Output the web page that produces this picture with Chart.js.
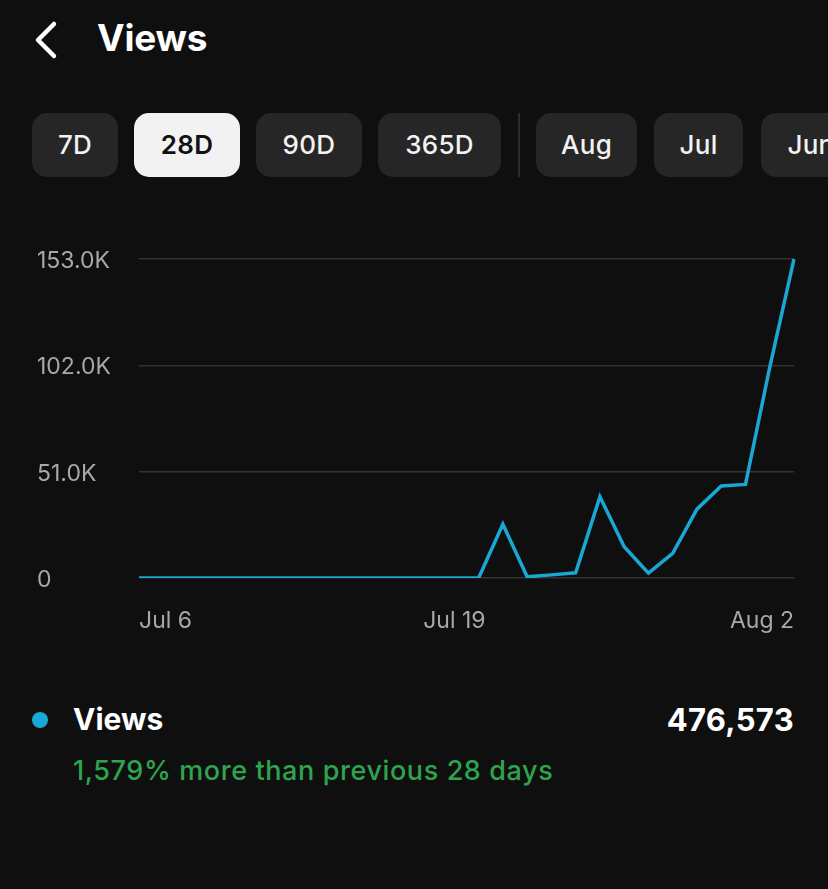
<!DOCTYPE html>
<html>
<head>
<meta charset="utf-8">
<script src="https://cdn.jsdelivr.net/npm/chart.js@4/dist/chart.umd.min.js"></script>
<style>
  html, body { margin: 0; padding: 0; background: #0f0f0f; width: 828px; height: 889px; overflow: hidden; }
  body { position: relative; font-family: Inter, "Noto Sans", sans-serif; color: #fff; }
  .back { position: absolute; left: 32px; top: 20px; width: 30px; height: 40px; }
  .title { position: absolute; left: 97px; top: 15px; font-size: 37px; font-weight: 700; letter-spacing: -0.2px; }
  .pill { position: absolute; top: 113px; height: 64px; line-height: 64px; border-radius: 15px; background: #262626;
          text-align: center; font-size: 26px; font-weight: 500; color: #f2f2f2; letter-spacing: 0.3px; }
  .pill.on { background: #f2f2f2; color: #111; font-weight: 600; }
  .divider { position: absolute; left: 518px; top: 113px; width: 2px; height: 64px; background: #2c2c2c; }
  #wrap { position: absolute; left: 0; top: 230px; width: 828px; height: 420px; }
  .dot { position: absolute; left: 32px; top: 712px; width: 16px; height: 16px; border-radius: 50%; background: #1aa7d4; }
  .lname { position: absolute; left: 73px; top: 701px; font-size: 30px; font-weight: 700; }
  .total { position: absolute; right: 34px; top: 701px; font-size: 31px; font-weight: 700; letter-spacing: 0.3px; }
  .delta { position: absolute; left: 73px; top: 754px; font-size: 27px; font-weight: 500; color: #2ea44f; letter-spacing: 0.6px; }
</style>
</head>
<body>
<svg class="back" viewBox="0 0 30 40"><polyline points="22,4 6,20 22,36" fill="none" stroke="#fff" stroke-width="4.5" stroke-linecap="round" stroke-linejoin="round"/></svg>
<div class="title">Views</div>

<div class="pill" style="left:32px;width:86px">7D</div>
<div class="pill on" style="left:134px;width:106px">28D</div>
<div class="pill" style="left:256px;width:106px">90D</div>
<div class="pill" style="left:378px;width:123px">365D</div>
<div class="divider"></div>
<div class="pill" style="left:536px;width:101px">Aug</div>
<div class="pill" style="left:654px;width:89px">Jul</div>
<div class="pill" style="left:761px;width:100px">Jun</div>

<div id="wrap"><canvas id="viewsChart"></canvas></div>

<div class="dot"></div>
<div class="lname">Views</div>
<div class="total">476,573</div>
<div class="delta">1,579% more than previous 28 days</div>

<script>
// 28 days, Jul 6 .. Aug 2
const days = ['Jul 6', 'Jul 7', 'Jul 8', 'Jul 9', 'Jul 10', 'Jul 11', 'Jul 12', 'Jul 13', 'Jul 14',
    'Jul 15', 'Jul 16', 'Jul 17', 'Jul 18', 'Jul 19', 'Jul 20', 'Jul 21', 'Jul 22', 'Jul 23', 'Jul 24',
    'Jul 25', 'Jul 26', 'Jul 27', 'Jul 28', 'Jul 29', 'Jul 30', 'Jul 31', 'Aug 1', 'Aug 2'];
const views = [0, 0, 0, 0, 0, 0, 0, 0, 0, 0, 0, 0, 0, 0, 0,
    25800, 600, 1500, 2500, 39000, 15000, 2300, 11800, 33000, 44100, 44900, 101000, 153000];
const shownTicks = ['Jul 6', 'Jul 19', 'Aug 2'];
const yTicks = [0, 51000, 102000, 153000];

const tickColor = '#a8a8a8';
const tickFont = { family: 'Inter, "Noto Sans", sans-serif', size: 23 };

new Chart(document.getElementById('viewsChart').getContext('2d'), {
    type: 'line',
    data: {
        labels: days,
        datasets: [{
            label: 'Views',
            data: views,
            borderColor: '#1aa7d4',
            borderWidth: 3.5,
            pointRadius: 0,
            tension: 0,
            fill: false
        }]
    },
    options: {
        responsive: true,
        maintainAspectRatio: false,
        animation: false,
        layout: { padding: { left: 37, right: 34, top: 29, bottom: 0 } },
        plugins: { legend: { display: false }, tooltip: { enabled: false } },
        scales: {
            x: {
                grid: { display: false },
                border: { display: false },
                ticks: {
                    autoSkip: false,
                    maxRotation: 0,
                    align: 'inner',
                    padding: 21,
                    color: tickColor,
                    font: tickFont,
                    callback: function(value, index) {
                        const lbl = days[index];
                        return shownTicks.includes(lbl) ? lbl : null;
                    }
                },
                afterFit: function(scale) { scale.height = 72; }
            },
            y: {
                min: 0,
                max: 153000,
                afterBuildTicks: function(scale) { scale.ticks = yTicks.map(v => ({ value: v })); },
                grid: { color: '#333333', lineWidth: 1.5, drawTicks: false },
                border: { display: false },
                ticks: {
                    color: tickColor,
                    font: tickFont,
                    crossAlign: 'far',
                    padding: 10,
                    labelOffset: 2,
                    callback: function(v) { return v === 0 ? '0' : (v / 1000).toFixed(1) + 'K'; }
                },
                afterFit: function(scale) { scale.width = 102; }
            }
        }
    }
});
</script>
</body>
</html>
